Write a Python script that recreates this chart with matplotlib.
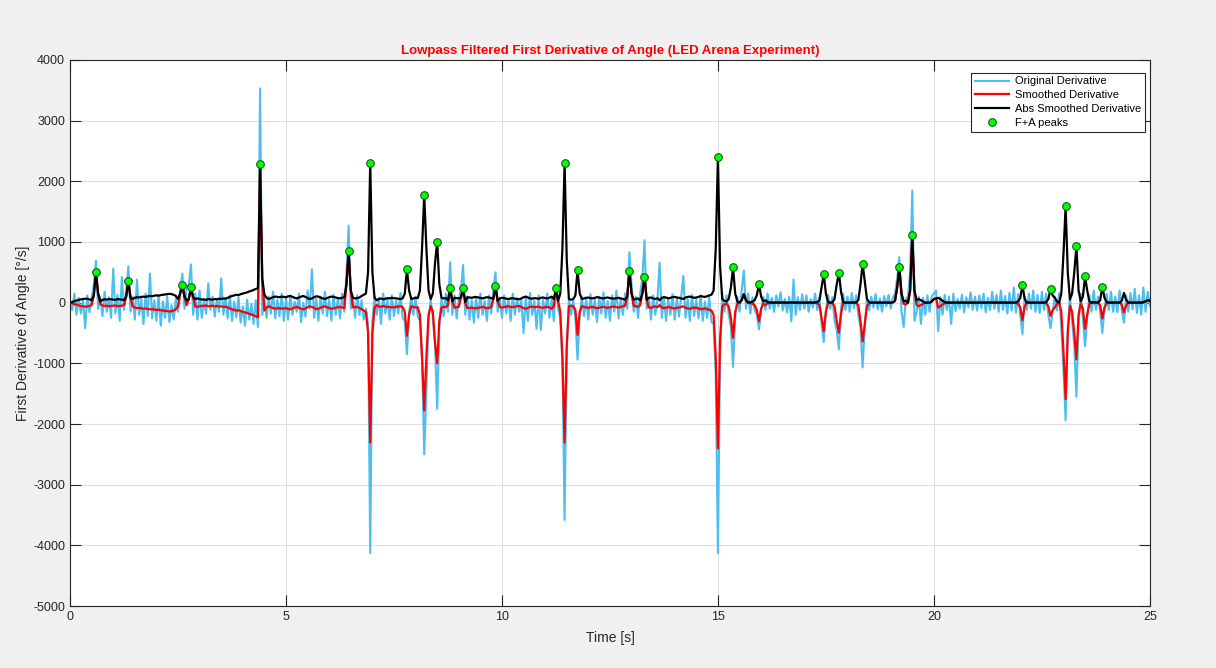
import matplotlib
matplotlib.use('Agg')
import matplotlib.pyplot as plt
import numpy as np

plt.rcParams['font.family'] = ['Liberation Sans', 'DejaVu Sans']
plt.rcParams['axes.unicode_minus'] = False

# samples every 0.05 s, one row per second (t = s + 0.05*j), last value at 25 s
orig_rows = [
    [50, -120, 150, -200, 80, -180, 40, -420, 120, -160, 60, 300, 690, -100, 100, -220, 180, -150, 90, -250],
    [560, -180, 130, -300, 420, -120, 200, 600, -150, 100, -280, 380, -200, 60, -350, 150, -220, 480, -260, 40],
    [-300, 120, -380, 20, -250, 100, -320, -40, -280, 80, -150, 200, 480, -100, 250, 300, 630, -200, 150, -280],
    [200, -250, 50, -180, 320, -120, 100, -230, 60, -150, 400, -200, 80, -260, 120, -300, 20, -240, 90, -330],
    [-60, -380, 50, -280, -20, -350, 40, -400, 3530, -200, 60, -250, 100, -180, 180, -260, 50, -220, 150, -300],
    [80, -280, 120, -200, 20, -150, 150, -320, 0, -230, 200, -100, 550, -250, 60, -300, 100, -180, 180, -220],
    [50, -300, 130, -200, 60, -260, 150, -150, 500, 1270, -100, 80, -250, 120, -200, 40, -280, -100, -350, -4130],
    [-300, 100, -200, 80, -350, 150, -180, 50, -280, 120, -220, 30, -180, 160, -250, -300, -850, -150, 80, -200],
    [100, -230, -300, -920, -2500, -1450, -300, 50, -250, -700, -1750, -400, 80, -220, 150, -150, 665, -200, 120, -260],
    [60, 200, 620, -200, 100, -280, 40, -330, 90, -250, 150, -200, 30, -300, 120, -180, 200, 500, -150, 80],
    [-250, 120, -180, 60, -300, 150, -200, 80, -150, 40, -500, 100, -300, 160, -200, 30, -430, 120, -450, 50],
    [-180, 150, -250, 60, -300, 300, -100, -250, -1000, -3580, -800, 80, -200, 40, -250, -940, -200, 100, -220, 60],
    [-280, 140, -200, 50, -320, 100, -180, 170, -250, 30, -300, 120, -150, 200, -260, 60, -200, 150, -100, 830],
    [300, -150, 100, -250, 150, 400, 1030, -100, 80, -280, 120, -200, 50, 660, -250, 100, -300, 60, -200, 140],
    [-280, 80, -230, 100, 440, -250, 60, -300, 130, -220, 50, -260, 120, -300, 20, -250, 90, -320, -350, -1200],
    [-4130, -800, 150, -150, 120, -200, -400, -1060, -250, 100, -150, 200, 530, -100, 150, -180, 90, -120, -200, -440],
    [-150, 100, -120, 150, -100, 80, -150, 120, -60, 170, -130, 60, -160, 100, -310, 380, -200, 90, -120, 140],
    [-100, 120, -150, 60, -80, 150, -120, 80, -350, -650, -150, 130, -100, 90, -300, -450, -770, -100, 150, -120],
    [100, -150, 160, -90, 120, -200, -400, -1070, -400, 60, -130, 100, -80, 140, -110, 70, -150, 110, -60, 130],
    [-100, 80, 150, 400, 750, -150, -400, 60, 100, 500, 1850, -300, -150, 100, -350, 80, -200, 120, -150, 100],
    [150, 200, -470, 90, -200, 130, -120, 100, -350, 150, -140, 60, -100, 130, -160, 90, -80, 170, -120, 100],
    [-130, 120, -90, 150, -160, 80, -120, 180, -100, 130, -150, 200, -120, 110, -180, 160, -130, 250, -160, 140],
    [-200, -520, 100, -120, 150, -100, 200, -150, 130, -170, 180, -120, 150, -200, -420, -150, 100, -130, 160, -400],
    [-1100, -1940, -400, 100, -300, -700, -1550, -300, 150, -250, -720, -250, 120, -150, 200, -120, 100, -150, -500, -100],
    [150, -120, 180, -150, 100, -160, 200, -120, -330, 120, -150, 160, -110, 230, -170, 120, -200, 250, -150, 180],
    [-50],
]

smooth_rows = [
    [0, -10, -25, -35, -45, -55, -60, -65, -65, -55, -40, 120, 498, 150, -20, -45, -55, -50, -60, -55],
    [-50, -45, -60, -55, -50, -40, 100, 356, 80, -60, -80, -90, -85, -95, -100, -95, -105, -110, -105, -115],
    [-120, -115, -125, -130, -135, -140, -145, -140, -130, -110, -60, 150, 295, 100, -40, 60, 252, 90, -60, -70],
    [-60, -50, -55, -45, -60, -55, -50, -60, -55, -65, -60, -70, -65, -80, -95, -110, -120, -130, -125, -140],
    [-150, -160, -170, -185, -195, -210, -225, -240, 2287, 400, -130, -80, -60, -75, -90, -100, -95, -90, -100, -95],
    [-90, -105, -110, -95, -80, -70, -85, -100, -110, -95, -75, -60, -70, -90, -105, -100, -85, -70, -60, -75],
    [-90, -100, -95, -85, -75, -70, -80, -90, 300, 848, 200, -80, -70, -75, -85, -110, -130, -150, -500, -2304],
    [-500, -80, -40, -60, -70, -55, -65, -75, -70, -80, -75, -70, -65, -60, -70, -150, -547, -200, -60, -70],
    [-80, -75, -200, -900, -1778, -900, -200, -60, -150, -650, -1001, -300, -80, -70, -75, -40, 241, 20, -80, -75],
    [-70, 80, 241, -10, -90, -85, -80, -90, -95, -85, -80, -70, -80, -90, -85, -75, 60, 268, 30, -70],
    [-80, -75, -65, -60, -70, -75, -65, -60, -55, -70, -90, -100, -85, -70, -65, -75, -70, -65, -80, -85],
    [-75, -70, -80, -100, -60, 235, 30, -150, -900, -2304, -700, -60, -50, -60, -120, -531, -150, -60, -70, -80],
    [-85, -75, -70, -80, -90, -85, -75, -70, -80, -85, -75, -70, -65, -75, -80, -70, -60, -50, 100, 530],
    [150, -50, -60, -70, -40, 150, 426, 50, -80, -85, -70, -60, -75, -40, -80, -90, -85, -70, -80, -90],
    [-95, -85, -80, -70, -60, -85, -95, -100, -90, -80, -85, -95, -110, -100, -95, -105, -120, -130, -200, -900],
    [-2404, -600, -60, -30, -20, -60, -250, -580, -150, -20, 0, 40, 140, 40, 0, -10, -15, -40, -120, -306],
    [-100, -20, -40, -10, -5, -3, 0, -4, -2, 0, -5, -3, 0, -2, -6, -3, 0, -4, -2, 0],
    [-3, 0, -5, -2, 0, -4, -10, -40, -250, -470, -150, -10, 0, -5, -60, -300, -497, -180, -10, 0],
    [-3, 0, -4, -2, -5, -40, -300, -640, -350, -60, -10, 0, -3, -2, 0, -4, -2, 0, -3, 0],
    [0, 5, 30, 250, 590, 150, -20, -30, 0, 200, 1115, 200, -40, -60, -40, -20, 0, 0, 0, 20],
    [60, 70, -80, -60, -30, -10, 0, -3, 0, -2, 0, -4, 0, -2, -3, 0, -2, 0, -3, 0],
    [-2, 0, -3, 0, -2, -4, 0, -2, 0, -3, 0, -2, -4, 0, -3, 0, -2, 0, -5, -20],
    [-80, -290, -70, 0, -3, 0, -2, 0, -4, 0, -2, 0, -10, -60, -219, -120, -80, -20, 0, -150],
    [-800, -1590, -500, -50, -150, -500, -934, -200, -20, -100, -432, -200, -20, 0, -10, -5, 0, -40, -262, -80],
    [-10, 0, -3, 0, -5, -2, 0, -30, -160, -50, 0, -3, 0, -2, 0, -3, 0, 10, 20, 40],
    [30],
]

peak_times = [0.60, 1.35, 2.60, 2.80, 4.40, 6.45, 6.95, 7.80, 8.20, 8.50, 8.80, 9.10, 9.85,
              11.25, 11.45, 11.75, 12.95, 13.30, 15.00, 15.35, 15.95, 17.45, 17.80, 18.35,
              19.20, 19.50, 22.05, 22.70, 23.05, 23.30, 23.50, 23.90]
peak_values = [498, 356, 295, 252, 2287, 848, 2304, 547, 1778, 1001, 241, 241, 268,
               235, 2304, 531, 530, 426, 2404, 580, 306, 470, 497, 640,
               590, 1115, 290, 219, 1590, 934, 432, 262]

orig = np.concatenate([np.array(r, dtype=float) for r in orig_rows])
smooth = np.concatenate([np.array(r, dtype=float) for r in smooth_rows])
abs_smooth = np.abs(smooth)
t = np.linspace(0, 25, len(orig))

fig = plt.figure(figsize=(12.16, 6.68), dpi=100, facecolor='#f0f0f0')
ax = fig.add_axes([0.0576, 0.0928, 0.888, 0.8174])

ax.plot(t, orig, color='#4DBEEE', lw=1.5, label='Original Derivative')
ax.plot(t, smooth, color='#ff0000', lw=1.6, label='Smoothed Derivative')
ax.plot(t, abs_smooth, color='black', lw=1.6, label='Abs Smoothed Derivative')
ax.plot(peak_times, peak_values, 'o', ls='none', ms=5.5, mfc='#00ff00', mec='#1a5a1a',
        mew=0.8, label='F+A peaks')

ax.set_xlim(0, 25)
ax.set_ylim(-5000, 4000)
ax.set_xticks(np.arange(0, 26, 5))
ax.set_yticks(np.arange(-5000, 4001, 1000))
ax.grid(True, color='#dedede', lw=0.8)
ax.set_axisbelow(True)
ax.tick_params(direction='in', length=8, width=0.8, colors='#262626', labelsize=9,
               top=True, right=True)
for sp in ax.spines.values():
    sp.set_color('#262626')
    sp.set_linewidth(0.8)

ax.set_title('Lowpass Filtered First Derivative of Angle (LED Arena Experiment)',
             color='#ff0000', fontweight='bold', fontsize=9.5, pad=4)
ax.set_xlabel('Time [s]', fontsize=10, color='#262626', labelpad=6)
ax.set_ylabel('First Derivative of Angle [°/s]', fontsize=10, color='#262626', labelpad=2)

leg = ax.legend(loc='upper right', bbox_to_anchor=(0.9955, 0.977), fontsize=8,
                fancybox=False, framealpha=1, edgecolor='#262626', handlelength=3.1,
                borderpad=0.35, labelspacing=0.35, handletextpad=0.5, borderaxespad=0)
leg.get_frame().set_linewidth(0.8)

plt.savefig('out.png', dpi=100, facecolor=fig.get_facecolor())
